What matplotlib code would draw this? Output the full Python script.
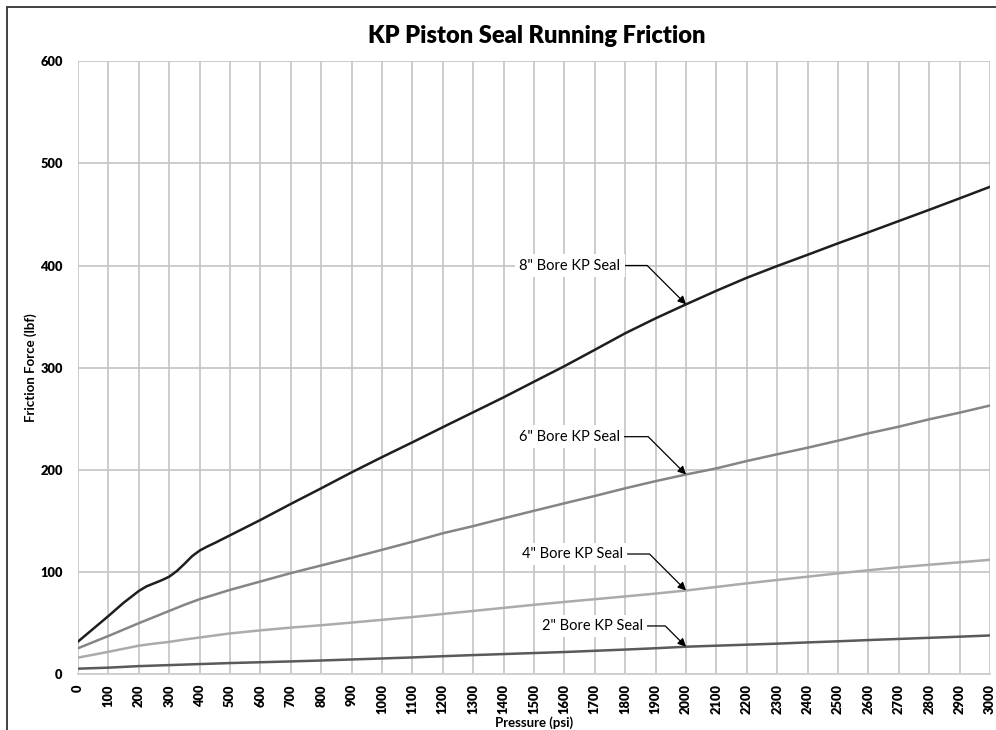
import matplotlib
matplotlib.use("Agg")
import matplotlib.pyplot as plt
from matplotlib.patches import Rectangle

plt.rcParams['font.family'] = ['Lato', 'DejaVu Sans']

# pressure (psi) and friction force (lbf)
pressure = [0, 100, 200, 250, 300, 350, 400, 450, 500, 600, 700, 800, 900, 1000,
            1100, 1200, 1300, 1400, 1500, 1600, 1700, 1800, 1900, 2000,
            2100, 2200, 2300, 2400, 2500, 2600, 2700, 2800, 2900, 3000]

# 8" curve has a wiggle near 200-400 psi, so it gets a few extra readings
pressure8 = [0, 100, 150, 200, 225, 250, 275, 300, 325, 350, 375, 400, 425, 450, 500,
             600, 700, 800, 900, 1000, 1100, 1200, 1300, 1400, 1500, 1600, 1700,
             1800, 1900, 2000, 2100, 2200, 2300, 2400, 2500, 2600, 2700, 2800,
             2900, 3000]
bore8 = [32, 57, 70, 81.5, 86, 89, 92, 95.5, 101, 108, 115.5, 121, 125, 128.5, 136,
         151, 166.7, 182, 197.6, 212.5, 227, 241.8, 256.4, 271, 286.3, 301.5,
         317.5, 333.7, 348.3, 362, 375.3, 388, 399.5, 410.5, 421.7, 432.5, 443.5,
         454.5, 465.7, 477]
bore6 = [25.5, 37.5, 50, 56, 62, 68, 73.5, 78, 82.6, 90.8, 99, 106.5, 114, 121.8,
         129.7, 138, 145, 152.6, 160, 167.3, 174.5, 182, 189, 195.5,
         201.5, 208.7, 215.3, 221.7, 228.6, 235.8, 242.3, 249.5, 256, 263]
bore4 = [16.3, 22, 28, 30, 31.7, 34, 36, 38, 40, 43, 45.7, 48, 50.6, 53.3,
         56, 59, 62, 65, 68, 70.8, 73.5, 76.2, 79, 82,
         85.5, 89, 92.3, 95.5, 98.8, 101.8, 104.7, 107.2, 109.6, 112]
bore2 = [5.5, 6.5, 8, 8.5, 9, 9.5, 10, 10.5, 11, 11.8, 12.6, 13.5, 14.5, 15.5,
         16.5, 17.7, 18.8, 19.8, 20.8, 21.8, 23, 24.2, 25.5, 27,
         28, 29, 30, 31.2, 32.3, 33.5, 34.6, 35.7, 36.8, 38]

labels = ['8" Bore KP Seal', '6" Bore KP Seal', '4" Bore KP Seal', '2" Bore KP Seal']
# where each label's arrow points (on the curve) and where the text sits
label_pts = [(2000, 362), (2000, 195.5), (2000, 82), (2000, 27)]
label_text = [(1618, 400), (1617, 232.5), (1627, 117.7), (1691, 47.3)]

fig = plt.figure(figsize=(9.96, 7.30), dpi=100)
ax = fig.add_axes([0.0783, 0.0763, 0.9157, 0.840])

ax.plot(pressure8, bore8, color='#1e1e1e', lw=1.8, zorder=3)
ax.plot(pressure, bore6, color='#858585', lw=1.8, zorder=3)
ax.plot(pressure, bore4, color='#ababab', lw=1.8, zorder=3)
ax.plot(pressure, bore2, color='#5a5a5a', lw=1.8, zorder=3)

for lab, pt, tx in zip(labels, label_pts, label_text):
    ax.annotate(lab, xy=pt, xytext=tx, ha='center', va='center', fontsize=10.5,
                bbox=dict(boxstyle='square,pad=0.3', fc='white', ec='none'),
                arrowprops=dict(arrowstyle='-|>', color='black', lw=0.9,
                                mutation_scale=12,
                                connectionstyle='angle,angleA=0,angleB=135,rad=0',
                                relpos=(1, 0.5), shrinkA=0, shrinkB=0),
                zorder=4)

ax.set_xlim(0, 3000)
ax.set_ylim(0, 600)
ax.set_xticks(range(0, 3001, 100))
ax.set_yticks(range(0, 601, 100))
ax.grid(True, color='#c4c4c4', lw=1.2, zorder=0)
ax.set_axisbelow(True)
for s in ['top', 'right', 'left']:
    ax.spines[s].set_visible(False)
ax.spines['bottom'].set_color('#d0d0d0')
ax.spines['bottom'].set_linewidth(1.4)
ax.tick_params(length=0)
ax.tick_params(axis='x', pad=7, labelrotation=90)
ax.tick_params(axis='y', pad=11)
for t in ax.get_xticklabels() + ax.get_yticklabels():
    t.set_fontweight('heavy')
    t.set_fontsize(9.3)

ax.set_xlabel('Pressure (psi)', fontweight='bold', fontsize=9.5, labelpad=2)
ax.set_ylabel('Friction Force (lbf)', fontweight='bold', fontsize=9.5, labelpad=2)
fig.text(0.539, 0.951, 'KP Piston Seal Running Friction', ha='center', va='center',
         fontsize=17, fontweight='heavy')

# outer chart frame
fig.patches.append(Rectangle((6.5 / 996, -0.1), 2, 1.1 - 7.5 / 730, fill=False,
                             ec='#333333', lw=1.3, transform=fig.transFigure))

fig.savefig('out.png', dpi=100)
